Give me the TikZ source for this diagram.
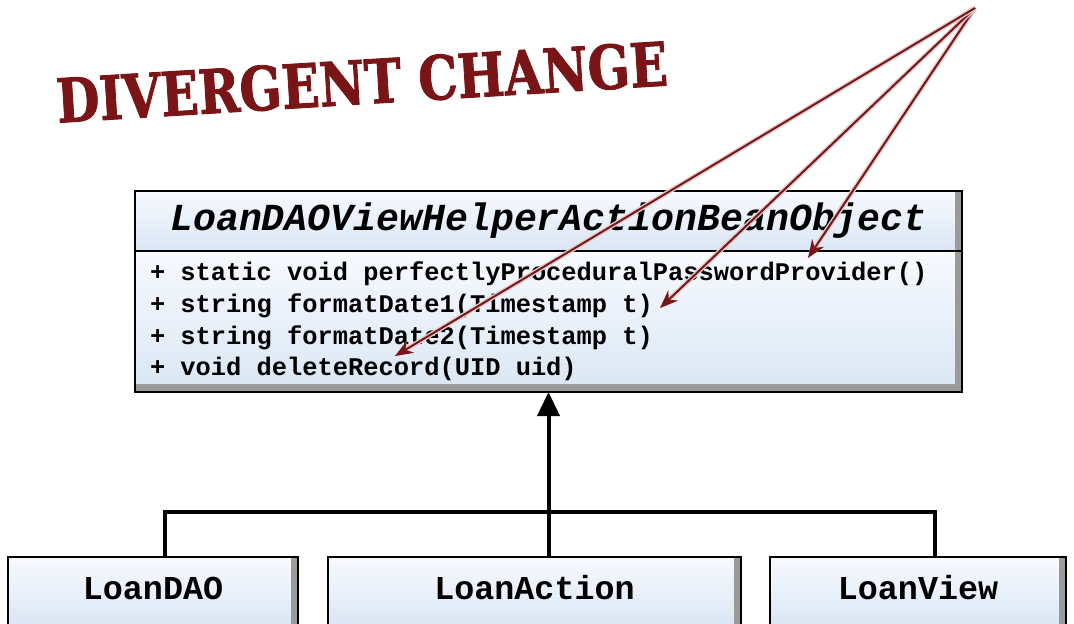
\documentclass[tikz,border=0pt]{standalone}
\usepackage{fontspec}
\setmonofont{Liberation Mono}
\newfontfamily\stampfont[FakeBold=1.5]{DejaVu Serif Condensed}
\usetikzlibrary{positioning,arrows.meta,calc}

\definecolor{stampred}{HTML}{7A1517}
\definecolor{boxtop}{HTML}{F7FAFE}
\definecolor{boxbot}{HTML}{DAE6F4}
\definecolor{bevel}{HTML}{9A9A9A}

% monospaced member list with fixed-width spaces
\DeclareRobustCommand\opsfont{\ttfamily\bfseries\fontsize{12.7}{15.85}\selectfont
  \spaceskip=0.6em\relax}

\begin{document}
\begin{tikzpicture}[
  x=0.5pt, y=-0.5pt,
  >=Stealth,
  node distance = 15pt and 15pt,
  %% Box styles
  classbox/.style = {draw, line width=1pt, top color=boxtop, bottom color=boxbot,
                     inner sep=0pt, outer sep=0pt,
                     path picture={
                       \fill[bevel] ([xshift=-3.5pt]path picture bounding box.north east)
                         rectangle (path picture bounding box.south east);
                     }},
  opsbox/.style   = {classbox,
                     path picture={
                       \fill[bevel] ([xshift=-3.5pt]path picture bounding box.north east)
                         rectangle (path picture bounding box.south east);
                       \fill[bevel] ([yshift=4pt]path picture bounding box.south west)
                         rectangle (path picture bounding box.south east);
                     }},
  leafbox/.style  = {classbox, font=\ttfamily\bfseries\fontsize{16.7}{18}\selectfont,
                     text height=16pt, text depth=9pt, inner ysep=5pt},
  tree/.style     = {line width=2pt},
  hint/.style     = {-{Stealth[length=9pt,width=7pt]}, stampred, line width=1pt,
                     preaction={draw=stampred!22, line width=2.4pt}},
]

\fill[white] (0,0) rectangle (1074,623);
\useasboundingbox (0,0) rectangle (1074,623);

%% ── Stamp ──────────────────────────────────────────────────────
\node[rotate=3.5, text=stampred, inner sep=0pt] (stamp) at (362,82)
  {\resizebox{306pt}{22.5pt}{\stampfont\bfseries DIVERGENT CHANGE}};

%% ── God class ──────────────────────────────────────────────────
\node[classbox, minimum width=413.5pt, minimum height=30pt,
      font=\ttfamily\bfseries\itshape\fontsize{19.1}{20}\selectfont] (cls) at (548.5,221)
  {LoanDAOViewHelperActionBeanObject};

\node[opsbox, below=0pt of cls, minimum width=413.5pt, minimum height=70.5pt,
      text width=398.5pt, inner xsep=7.5pt, align=flush left, font=\opsfont] (ops) {%
  + static void perfectlyProceduralPasswordProvider()\\
  + string formatDate1(Timestamp t)\\
  + string formatDate2(Timestamp t)\\
  + void deleteRecord(UID uid)};

%% ── Subclasses ─────────────────────────────────────────────────
\node[leafbox, minimum width=206.5pt] (act) at (534.5,592) {LoanAction};
\node[leafbox, minimum width=145pt, left=of act] (dao) {LoanDAO};
\node[leafbox, minimum width=148pt, right=14.5pt of act] (view) {LoanView};

%% ── Inheritance tree ───────────────────────────────────────────
\coordinate (junc) at (cls.south |- 0,512);
\draw[tree] ([xshift=6pt]dao.north) |- (junc) -| ([xshift=8.5pt]view.north);
\draw[tree, -{Triangle[width=11pt,length=12pt]}] (cls.south |- act.north) -- (ops.south);

%% ── Change pointers ────────────────────────────────────────────
\coordinate (src)  at (975,8);
\coordinate (tgtP) at (808,258);
\coordinate (tgtF) at (660,308);
\coordinate (tgtD) at (395,356);
\draw[hint] (src) -- (tgtP);
\draw[hint] (src) -- (tgtF);
\draw[hint] (src) -- (tgtD);

\end{tikzpicture}
\end{document}
